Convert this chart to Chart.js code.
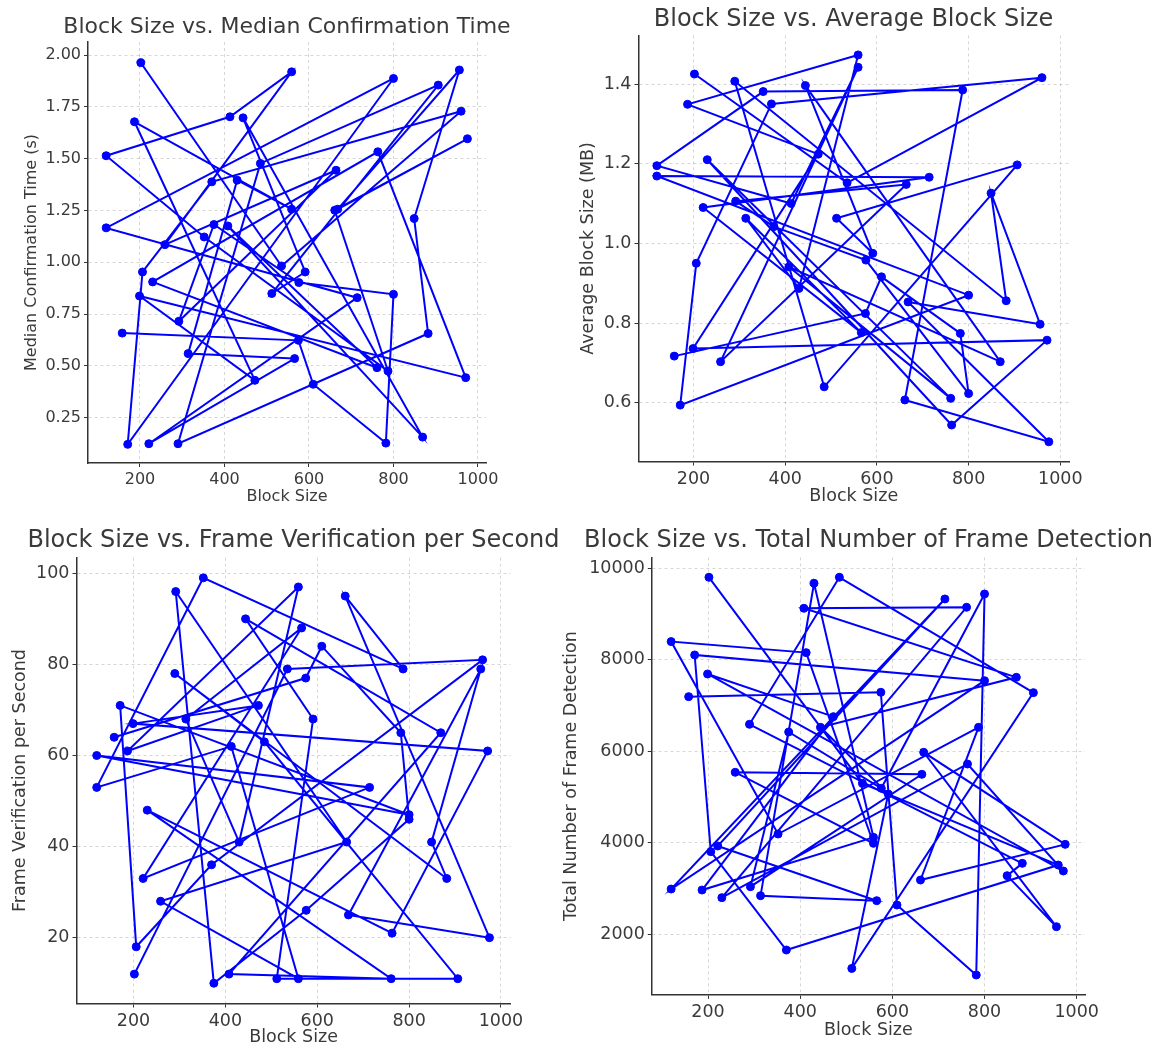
<!DOCTYPE html>
<html>
<head>
<meta charset="utf-8">
<script src="https://cdn.jsdelivr.net/npm/chart.js@4.4.1/dist/chart.umd.min.js"></script>
<style>
html, body { margin: 0; padding: 0; background: #fff; overflow: hidden; width: 1158px; height: 1050px; }
canvas { position: absolute; }
</style>
</head>
<body>
<canvas id="c1" width="574" height="515" style="left:0px;top:0px"></canvas>
<canvas id="c2" width="587" height="515" style="left:560px;top:0px"></canvas>
<canvas id="c3" width="587" height="530" style="left:0px;top:520px"></canvas>
<canvas id="c4" width="617" height="530" style="left:560px;top:520px"></canvas>
<script>
// block sizes, in the order they were plotted
const blockSize = [202, 535, 960, 370, 206, 171, 800, 120, 714, 221, 566, 314, 430, 559, 187, 472, 199, 971, 763, 230,
                   761, 408, 869, 444, 591, 512, 906, 485, 290, 882, 849, 956, 668, 975, 661, 787, 352, 120, 413, 559,
                   259, 664, 292, 375, 576, 800, 782, 610, 575, 158];

const medianConfTime = [1.963, 0.982, 1.729, 1.388, 0.953, 0.121, 1.887, 1.166, 0.829, 0.124, 0.535, 0.559, 1.396, 1.256, 1.678, 0.430, 0.837, 0.443, 1.533, 0.905,
                        0.491, 1.175, 0.156, 1.697, 0.953, 0.849, 1.855, 1.477, 0.124, 0.656, 1.211, 1.928, 1.256, 1.596, 1.251, 0.475, 1.122, 1.514, 1.702, 1.919,
                        1.085, 1.444, 0.715, 1.182, 0.902, 0.845, 0.127, 0.411, 0.623, 0.658];

const avgBlockSize = [1.425, 1.152, 1.416, 1.350, 0.950, 0.594, 0.870, 1.169, 1.166, 1.090, 0.776, 1.063, 0.887, 1.473, 1.349, 1.224, 0.736, 0.757, 0.544, 1.210,
                      0.611, 0.941, 0.703, 1.396, 0.975, 1.063, 1.197, 0.640, 1.407, 0.856, 1.126, 0.797, 0.853, 0.502, 0.607, 1.385, 1.381, 1.195, 1.100, 1.442,
                      0.703, 1.148, 1.106, 1.042, 0.958, 0.623, 0.774, 0.916, 0.824, 0.717];

const frameVerifPerSec = [12, 79, 81, 36, 18, 71, 47, 60, 53, 33, 88, 68, 41, 97, 61, 71, 67, 61, 21, 48,
                          11, 12, 65, 90, 68, 11, 11, 63, 78, 33, 41, 79, 25, 20, 95, 79, 99, 53, 62, 11,
                          28, 41, 96, 10, 26, 46, 65, 84, 77, 64];

const frameDetectTotal = [9803, 5296, 3509, 1650, 3801, 8104, 7542, 2984, 9329, 3925, 2729, 2838, 9672, 4114, 2962, 6755, 7688, 3378, 5719, 2795,
                          9147, 9125, 7615, 6521, 5063, 1248, 7280, 9803, 6587, 3546, 3276, 2160, 5974, 3961, 3181, 6521, 4187, 8396, 8155, 3983,
                          5537, 5493, 3035, 6419, 5187, 9438, 1103, 2634, 7287, 7192];

const xTicks = [200, 400, 600, 800, 1000];
const yTicksMedian = [0.25, 0.5, 0.75, 1.0, 1.25, 1.5, 1.75, 2.0];
const yTicksAvg = [0.6, 0.8, 1.0, 1.2, 1.4];
const yTicksVerif = [20, 40, 60, 80, 100];
const yTicksDetect = [2000, 4000, 6000, 8000, 10000];

const textColor = "#3a3a3a";
const axisColor = "#333333";
const gridColor = "rgba(0,0,0,0.16)";
const lineBlue = "#0000ff";

Chart.defaults.font.family = "'DejaVu Sans', sans-serif";

function buildChart(canvasId, yValues, o) {
    const points = blockSize.map((x, i) => ({ x: x, y: yValues[i] }));

    return new Chart(document.getElementById(canvasId), {
        type: "scatter",
        data: {
            datasets: [{
                data: points,
                showLine: true,
                borderColor: lineBlue,
                backgroundColor: lineBlue,
                borderWidth: 2,
                pointRadius: 4,
                pointBorderWidth: 1,
                pointHoverRadius: 4,
                tension: 0
            }]
        },
        options: {
            responsive: false,
            animation: false,
            events: [],
            layout: { padding: 0 },
            plugins: {
                legend: { display: false },
                tooltip: { enabled: false },
                title: {
                    display: true,
                    text: o.title,
                    color: textColor,
                    font: { size: o.titleSize, weight: "normal" },
                    padding: { top: o.titleTop, bottom: o.titleBottom }
                }
            },
            scales: {
                x: {
                    type: "linear",
                    position: "bottom",
                    bounds: "data",
                    min: o.xMin,
                    max: o.xMax,
                    afterBuildTicks: s => { s.ticks = xTicks.map(v => ({ value: v })); },
                    afterFit: s => { s.height = o.xH; },
                    ticks: {
                        autoSkip: false, maxRotation: 0, padding: 3,
                        color: textColor, font: { size: o.tickSize },
                        callback: v => String(v)
                    },
                    grid: { color: gridColor, lineWidth: 1, tickColor: axisColor, tickLength: 4, tickWidth: 1 },
                    border: { display: true, color: axisColor, width: 1.5, dash: [3, 3] },
                    title: {
                        display: true, text: "Block Size", color: textColor,
                        font: { size: o.labelSize }, padding: { top: 0, bottom: o.xTitlePad }
                    }
                },
                y: {
                    type: "linear",
                    position: "left",
                    bounds: "data",
                    min: o.yMin,
                    max: o.yMax,
                    afterBuildTicks: s => { s.ticks = o.yTicks.map(v => ({ value: v })); },
                    afterFit: s => { s.width = o.yW; },
                    ticks: {
                        autoSkip: false, padding: 3,
                        color: textColor, font: { size: o.tickSize },
                        callback: o.fmt
                    },
                    grid: { color: gridColor, lineWidth: 1, tickColor: axisColor, tickLength: 4, tickWidth: 1 },
                    border: { display: true, color: axisColor, width: 1.5, dash: [3, 3] },
                    title: {
                        display: true, text: o.yLabel, color: textColor,
                        font: { size: o.labelSize }, padding: { top: o.yTitlePad, bottom: 0 }
                    }
                },
                // empty box on the right so the title centres over the plot
                yR: {
                    type: "linear",
                    position: "right",
                    display: true,
                    afterFit: s => { s.width = o.yRW; },
                    ticks: { display: false },
                    grid: { display: false },
                    border: { display: false }
                }
            }
        }
    });
}

buildChart("c1", medianConfTime, {
    title: "Block Size vs. Median Confirmation Time", yLabel: "Median Confirmation Time (s)",
    titleSize: 22, tickSize: 16, labelSize: 16, titleTop: 13.8, titleBottom: 1.8,
    xMin: 77, xMax: 1019, yMin: 0.031, yMax: 2.063, yTicks: yTicksMedian,
    fmt: v => v.toFixed(2), yW: 88, xH: 52, yRW: 88, xTitlePad: 8.7, yTitlePad: 22
});

buildChart("c2", avgBlockSize, {
    title: "Block Size vs. Average Block Size", yLabel: "Average Block Size (MB)",
    titleSize: 24, tickSize: 17.5, labelSize: 17.5, titleTop: 5.6, titleBottom: 1.0,
    xMin: 80, xMax: 1019, yMin: 0.4525, yMax: 1.522, yTicks: yTicksAvg,
    fmt: v => v.toFixed(1), yW: 78.5, xH: 53.5, yRW: 78, xTitlePad: 7.8, yTitlePad: 18.1
});

buildChart("c3", frameVerifPerSec, {
    title: "Block Size vs. Frame Verification per Second", yLabel: "Frame Verification per Second",
    titleSize: 24, tickSize: 17.5, labelSize: 17.5, titleTop: 6.6, titleBottom: 2.2,
    xMin: 76, xMax: 1021, yMin: 5.55, yMax: 103.45, yTicks: yTicksVerif,
    fmt: v => String(v), yW: 76.5, xH: 46.5, yRW: 76.4, xTitlePad: 2.5, yTitlePad: 9.5
});

buildChart("c4", frameDetectTotal, {
    title: "Block Size vs. Total Number of Frame Detection", yLabel: "Total Number of Frame Detection",
    titleSize: 24, tickSize: 17.5, labelSize: 17.5, titleTop: 6.6, titleBottom: 2.0,
    xMin: 78, xMax: 1018, yMin: 668, yMax: 10238, yTicks: yTicksDetect,
    fmt: v => String(v), yW: 91.8, xH: 55.1, yRW: 92, xTitlePad: 9.5, yTitlePad: 0.9
});
</script>
</body>
</html>
